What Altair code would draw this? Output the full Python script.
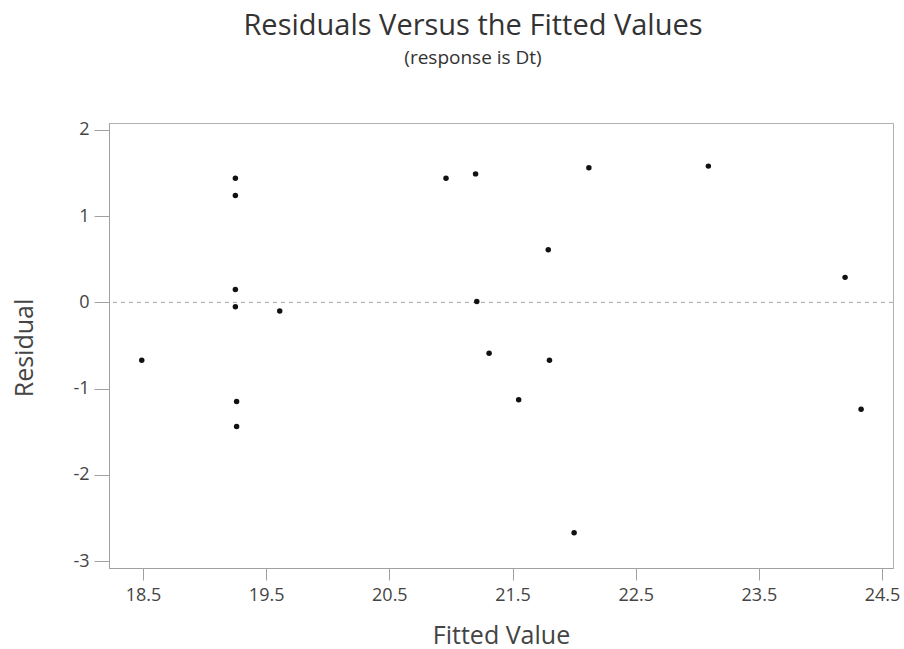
import altair as alt
import pandas as pd

# Fitted values and residuals from the regression of Dt
fitted = [19.25, 19.25, 19.25, 19.25, 19.26, 19.26, 19.61, 18.49,
          20.96, 21.20, 22.12, 21.79, 21.21, 21.31, 21.80, 21.55,
          22.00, 23.09, 24.20, 24.33]
residual = [1.44, 1.24, 0.15, -0.05, -1.15, -1.44, -0.10, -0.67,
            1.44, 1.49, 1.56, 0.61, 0.01, -0.59, -0.67, -1.13,
            -2.67, 1.58, 0.29, -1.24]

x_ticks = [18.5, 19.5, 20.5, 21.5, 22.5, 23.5, 24.5]
y_ticks = [-3, -2, -1, 0, 1, 2]

df = pd.DataFrame({"fitted": fitted, "residual": residual})
ref = pd.DataFrame({"zero": [0]})

FONT = "Open Sans"
W, H = 784, 445

x_scale = alt.Scale(domain=[18.224, 24.589], nice=False, zero=False)
y_scale = alt.Scale(domain=[-3.08, 2.08], nice=False, zero=False)

points = alt.Chart(df).mark_point(
    filled=True, shape="circle", size=30, color="#111111", opacity=1
).encode(
    x=alt.X("fitted:Q", scale=x_scale, axis=alt.Axis(
        title="Fitted Value", values=x_ticks, format=".1f",
        tickSize=12, labelPadding=6, titleY=75, titleBaseline="alphabetic",
    )),
    y=alt.Y("residual:Q", scale=y_scale, axis=alt.Axis(
        title="Residual", values=y_ticks, labelExpr="'' + datum.value",
        tickSize=15, labelPadding=5, titleX=-77, titleY=H / 2 + 2,
        titleAngle=-90, titleBaseline="alphabetic",
    )),
)

zero_line = alt.Chart(ref).mark_rule(
    color="#a8a8a8", strokeDash=[4, 4], strokeWidth=1
).encode(y=alt.Y("zero:Q", scale=y_scale))

chart = alt.layer(zero_line, points).properties(
    width=W,
    height=H,
    autosize=alt.AutoSizeParams(type="none"),
    padding={"left": 109, "top": 123, "right": 11, "bottom": 81},
    background="white",
    title=alt.TitleParams(
        text="Residuals Versus the Fitted Values",
        subtitle="(response is Dt)",
        anchor="middle", dx=-28, offset=53,
        font=FONT, fontSize=29, fontWeight="normal", color="#333333",
        subtitleFont=FONT, subtitleFontSize=19, subtitleColor="#333333",
        subtitlePadding=8,
    ),
).configure_view(
    stroke="#b0b0b0", strokeWidth=1
).configure_axis(
    grid=False,
    domainColor="#a0a0a0",
    tickColor="#a0a0a0",
    labelFont=FONT, labelFontSize=18, labelColor="#444444",
    titleFont=FONT, titleFontSize=25, titleFontWeight="normal", titleColor="#444444",
)

chart.save("out.html", embed_options={"renderer": "svg", "actions": False})
